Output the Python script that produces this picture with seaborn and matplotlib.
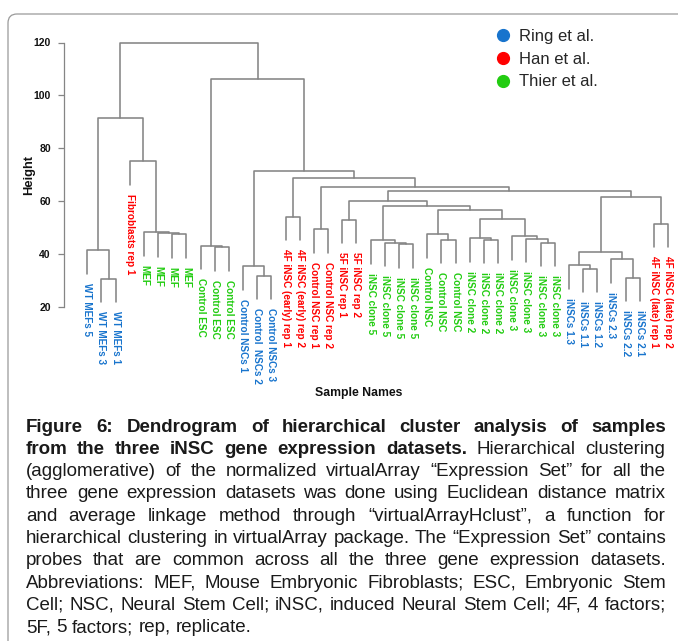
import numpy as np
import pandas as pd
import matplotlib
matplotlib.use("Agg")
import matplotlib.pyplot as plt
import seaborn as sns
from matplotlib.lines import Line2D
from matplotlib.patches import FancyBboxPatch
from matplotlib.transforms import IdentityTransform
from matplotlib import font_manager

# ---------------- data ----------------
leaf_labels = [
    "WT MEFs 5", "WT MEFs 3", "WT MEFs 1", "Fibroblasts rep 1",
    "MEF", "MEF", "MEF", "MEF",
    "Control ESC", "Control ESC", "Control ESC",
    "Control NSCs 1", "Control  NSCs 2", "Control NSCs 3",
    "4F iNSC (early) rep 1", "4F iNSC (early) rep 2",
    "Control NSC rep 1", "Control NSC rep 2",
    "5F iNSC rep 1", "5F iNSC rep 2",
    "iNSC clone 5", "iNSC clone 5", "iNSC clone 5", "iNSC clone 5",
    "Control NSC", "Control NSC", "Control NSC",
    "iNSC clone 2", "iNSC clone 2", "iNSC clone 2",
    "iNSC clone 3", "iNSC clone 3", "iNSC clone 3", "iNSC clone 3",
    "iNSCs 1.3", "iNSCs 1.1", "iNSCs 1.2", "iNSCs 2.3", "iNSCs 2.2", "iNSCs 2.1",
    "4F iNSC (late) rep 1", "4F iNSC (late) rep 2",
]
leaf_groups = (
    ["Ring et al."] * 3 + ["Han et al."] + ["Thier et al."] * 4 + ["Thier et al."] * 3
    + ["Ring et al."] * 3 + ["Han et al."] * 6 + ["Thier et al."] * 14
    + ["Ring et al."] * 6 + ["Han et al."] * 2
)

# hclust-style merge table: negative = leaf (1-based, in plotting order), positive = earlier merge
merge_left = [-2, -1, -7, -6, -5, -4, 2, -10, -9, -13, -12, -15, -17, -19,
              -23, -22, -21, -26, -25, -29, -28, -33, -32, -31, 21, 19, 17, 14,
              -36, -35, -39, -38, 30, -41, 33, 28, 13, 12, 11, 9, 7]
merge_right = [-3, 1, -8, 3, 4, 5, 6, -11, 8, -14, 10, -16, -18, -20,
               -24, 15, 16, -27, 18, -30, 20, -34, 22, 23, 24, 25, 26, 27,
               -37, 29, -40, 31, 32, -42, 34, 35, 36, 37, 38, 39, 40]
merge_height = [30.7, 41.5, 47.5, 47.9, 48.3, 75.1, 91.3, 42.7, 43.2, 31.8, 35.5, 54.2,
                49.4, 53.0, 43.7, 44.3, 45.2, 45.5, 47.5, 45.5, 46.1, 44.3, 45.8, 46.8,
                53.4, 56.8, 58.2, 60.1, 34.5, 35.7, 31.1, 38.1, 40.8, 51.5, 61.4, 63.9,
                65.4, 68.6, 71.6, 106.1, 120.0]

group_names = ["Ring et al.", "Han et al.", "Thier et al."]
group_colors = ["#1874CD", "#FF0000", "#22CC11"]
y_ticks = [20, 40, 60, 80, 100, 120]

caption_lines = [
    "Figure 6: Dendrogram of hierarchical cluster analysis of samples",
    "from the three iNSC gene expression datasets. Hierarchical clustering",
    "(agglomerative) of the normalized virtualArray \u201cExpression Set\u201d for all the",
    "three gene expression datasets was done using Euclidean distance matrix",
    "and average linkage method through \u201cvirtualArrayHclust\u201d, a function for",
    "hierarchical clustering in virtualArray package. The \u201cExpression Set\u201d contains",
    "probes that are common across all the three gene expression datasets.",
    "Abbreviations: MEF, Mouse Embryonic Fibroblasts; ESC, Embryonic Stem",
    "Cell; NSC, Neural Stem Cell; iNSC, induced Neural Stem Cell; 4F, 4 factors;",
    "5F, 5 factors; rep, replicate.",
]
caption_bold_words = 16

# ---------------- style ----------------
sns.set_theme(style="white")
plt.rcParams["font.family"] = ["Liberation Sans", "DejaVu Sans"]
_names = {f.name for f in font_manager.fontManager.ttflist}
cap_family = ["Liberation Sans Narrow", "Liberation Sans", "DejaVu Sans"] \
    if "Liberation Sans Narrow" in _names else ["Liberation Sans", "DejaVu Sans"]

W, H = 678, 641
fig = plt.figure(figsize=(W / 100, H / 100), dpi=100)
fig.patch.set_facecolor("white")

def fx(px):
    return px / W

def fy(py):
    return 1 - py / H

# rounded frame
frame = FancyBboxPatch((8, -40), 720, H - 14 + 40, boxstyle="round,pad=0,rounding_size=9",
                       transform=IdentityTransform(), facecolor="none",
                       edgecolor="#9a9a9a", linewidth=0.9)
fig.add_artist(frame)

# axes
ax_l, ax_r, ax_t, ax_b = 64, 672, 30, 320
ax = fig.add_axes([fx(ax_l), fy(ax_b), fx(ax_r - ax_l), (ax_b - ax_t) / H])
ax.set_facecolor("none")

# ---------------- dendrogram geometry from merge table ----------------
n = len(leaf_labels)
hang = 0.1 * (max(merge_height) - min(merge_height))
pos = {}
leaf_bottom = np.zeros(n)
rows = []
for k, (a, b, h) in enumerate(zip(merge_left, merge_right, merge_height), start=1):
    pts = []
    for c in (a, b):
        if c < 0:
            x, y = float(-c), h - hang
            leaf_bottom[-c - 1] = y
        else:
            x, y = pos[c]
        pts.append((x, y))
    (xa, ya), (xb, yb) = pts
    for j, (px, py) in enumerate([(xa, ya), (xa, h), (xb, h), (xb, yb)]):
        rows.append({"seg": k, "order": j, "x": px, "y": py})
    pos[k] = ((xa + xb) / 2.0, h)

seg_df = pd.DataFrame(rows)
sns.lineplot(data=seg_df, x="x", y="y", units="seg", estimator=None, sort=False,
             color="#858585", linewidth=1.15, ax=ax, legend=False)

# scales
px_per_unit = (307 - 42.5) / 100.0
ax.set_ylim(20 - (ax_b - 307) / px_per_unit, 120 + (42.5 - ax_t) / px_per_unit)
x_unit = (668 - 87.3) / (n - 1)
ax.set_xlim(1 - (87.3 - ax_l) / x_unit, n + (ax_r - 668) / x_unit)

for s in ["top", "right", "bottom"]:
    ax.spines[s].set_visible(False)
ax.spines["left"].set_bounds(20, 120)
ax.spines["left"].set_color("#858585")
ax.spines["left"].set_linewidth(0.9)
ax.set_xticks([])
ax.set_yticks(y_ticks)
ax.tick_params(axis="y", length=4, width=0.9, color="#858585", pad=5.5,
               labelsize=7.5, labelcolor="#111111", left=True)
for lbl in ax.get_yticklabels():
    lbl.set_fontweight("bold")
ax.set_xlabel("")
ax.set_ylabel("")

# leaf labels
cmap = dict(zip(group_names, group_colors))
for i, (lab, grp) in enumerate(zip(leaf_labels, leaf_groups)):
    ax.annotate(lab, xy=(i + 1, leaf_bottom[i]), xytext=(0, -6.5),
                textcoords="offset points", rotation=270, ha="center", va="top",
                fontsize=7.2, fontweight="bold", color=cmap[grp], annotation_clip=False)

# axis titles
fig.text(fx(29.5), fy(175), "Height", rotation=90, ha="center", va="center",
         fontsize=9.3, fontweight="bold", color="#111111")
fig.text(fx(359), fy(393), "Sample Names", ha="center", va="center",
         fontsize=8.8, fontweight="bold", color="#111111")

# legend
handles = [Line2D([], [], marker="o", ls="", color=c, markersize=8.5) for c in group_colors]
fig.legend(handles, group_names, loc="upper left", bbox_to_anchor=(fx(494.4), fy(28.5)),
           frameon=False, fontsize=12, handlelength=1.0, handletextpad=0.5,
           labelspacing=0.48, borderpad=0, borderaxespad=0)

# ---------------- justified caption ----------------
fig.canvas.draw()
renderer = fig.canvas.get_renderer()

def measure(s, weight, size):
    t = fig.text(0, 0, s, fontsize=size, fontweight=weight, family=cap_family)
    w = t.get_window_extent(renderer).width
    t.remove()
    return w

words_all = []
wi = 0
for line in caption_lines:
    ws = []
    for w in line.split(" "):
        ws.append((w, "bold" if wi < caption_bold_words else "normal"))
        wi += 1
    words_all.append(ws)

ref_size = 10.0
space_ref = measure("a a", "normal", ref_size) - measure("aa", "normal", ref_size)
cap_left, cap_right = 26, 666
cap_width = cap_right - cap_left
nat = []
for ws in words_all[:-1]:
    tot = sum(measure(w, wt, ref_size) for w, wt in ws) + space_ref * (len(ws) - 1)
    nat.append(tot)
cap_size = min(ref_size * cap_width / max(nat), 15.0)
space_w = space_ref * cap_size / ref_size

base0, pitch = 431.5, 22.3
for li, ws in enumerate(words_all):
    widths = [measure(w, wt, ref_size) * cap_size / ref_size for w, wt in ws]
    if li < len(words_all) - 1 and len(ws) > 1:
        gap = (cap_width - sum(widths)) / (len(ws) - 1)
    else:
        gap = space_w
    x = cap_left
    yb = base0 + li * pitch
    for (w, wt), ww in zip(ws, widths):
        fig.text(fx(x), fy(yb), w, fontsize=cap_size, fontweight=wt, family=cap_family,
                 ha="left", va="baseline", color="#1a1a1a")
        x += ww + gap

fig.savefig("out.png", dpi=100)
